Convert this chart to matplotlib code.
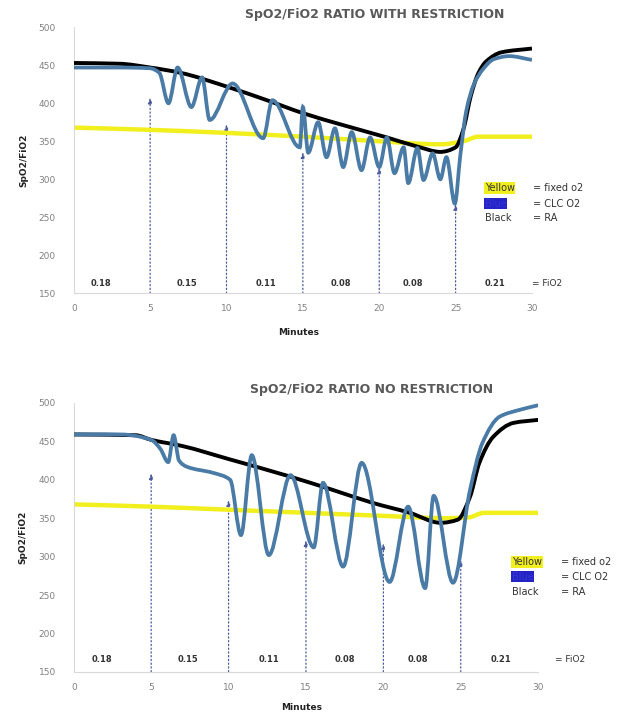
import numpy as np
import matplotlib
matplotlib.use("Agg")
import matplotlib.pyplot as plt
from matplotlib.path import Path
from matplotlib.patches import PathPatch

# ---- data ----
minute_ticks = [0, 5, 10, 15, 20, 25, 30]
ratio_ticks = [150, 200, 250, 300, 350, 400, 450, 500]

fio2_labels = ["0.18", "0.15", "0.11", "0.08", "0.08", "0.21"]
fio2_label_min = [1.8, 7.4, 12.6, 17.5, 22.2, 27.6]
switch_min = [5, 10, 15, 20, 25]

# with restriction
top_ra_min = [0, 3, 5, 7, 10, 12.5, 15, 17.5, 20.5, 22.5, 24, 25, 25.5, 26, 26.5, 27, 28, 30]
top_ra = [453, 452, 447, 440, 422, 405, 387, 372, 355, 343, 336, 342, 365, 410, 440, 455, 467, 472]

top_clc_min = [0, 3, 5, 5.6, 6.2, 6.8, 7.7, 8.4, 8.9, 10.4, 12.4, 13.0, 14.8, 15.0, 15.35,
               16.0, 16.55, 17.1, 17.64, 18.2, 18.84, 19.4, 20.0, 20.5, 21.0, 21.6, 21.9,
               22.5, 22.9, 23.5, 24.0, 24.4, 24.95, 25.3, 25.7, 26.2, 26.8, 27.5, 28.5, 30]
top_clc = [447, 447, 446, 440, 400, 447, 395, 434, 378, 426, 354, 404, 342, 395, 335,
           375, 329, 367, 316, 362, 312, 355, 316, 355, 308, 342, 295,
           341, 299, 334, 300, 329, 268, 330, 390, 425, 445, 458, 462, 457]

top_fixed_min = [0, 5, 10, 15, 20, 24, 25.5, 26.5, 30]
top_fixed = [368, 365, 361, 356, 350, 346, 350, 356, 356]

top_arrow_tip = [408, 373, 336, 316, 268]

# no restriction
bot_ra_min = [0, 4, 5, 7, 10, 14, 16.7, 19.3, 21.7, 23.7, 24.8, 25.6, 26.2, 27.1, 28.4, 30]
bot_ra = [459, 458, 452, 444, 427, 404, 387, 370, 357, 344, 348, 378, 422, 456, 474, 478]

bot_clc_min = [0, 3, 5, 5.6, 6.1, 6.45, 6.8, 7.3, 9.0, 10.1, 10.8, 11.5, 12.6, 14.0, 15.5,
               16.1, 17.4, 18.6, 20.4, 21.6, 22.7, 23.25, 24.5, 25.6, 26.4, 27.5, 28.8, 30]
bot_clc = [459, 459, 452, 440, 423, 458, 425, 417, 409, 400, 328, 432, 302, 406, 312,
           396, 287, 422, 267, 365, 259, 379, 266, 387, 448, 482, 491, 497]

bot_fixed_min = [0, 5, 10, 15, 20, 24, 25.5, 26.5, 30]
bot_fixed = [368, 365, 361, 357, 353, 350, 351, 357, 357]

bot_arrow_tip = [409, 374, 322, 318, 296]

BLUE = "#4a7aa6"
YELLOW = "#f2ef1e"
ARROW = "#4a5a9e"
GREY = "#808080"
TITLE = "#595959"


def smooth_path(xs, ys):
    # Excel-style smoothed line: monotone cubic segments drawn as bezier curves
    x = np.asarray(xs, float)
    y = np.asarray(ys, float)
    h = np.diff(x)
    d = np.diff(y) / h
    m = np.zeros_like(y)
    m[0], m[-1] = d[0], d[-1]
    for i in range(1, len(x) - 1):
        if d[i - 1] * d[i] > 0:
            w1 = 2 * h[i] + h[i - 1]
            w2 = h[i] + 2 * h[i - 1]
            m[i] = (w1 + w2) / (w1 / d[i - 1] + w2 / d[i])
    verts = [(x[0], y[0])]
    codes = [Path.MOVETO]
    for i in range(len(x) - 1):
        verts += [(x[i] + h[i] / 3, y[i] + m[i] * h[i] / 3),
                  (x[i + 1] - h[i] / 3, y[i + 1] - m[i + 1] * h[i] / 3),
                  (x[i + 1], y[i + 1])]
        codes += [Path.CURVE4] * 3
    return Path(verts, codes)


def draw_panel(ax, title, title_x, ra_x, ra, clc_x, clc, fx_x, fx, tips,
               legend_x, legend_eq_x, legend_y, fio2_y, fio2_eq_x, minutes_y):
    ax.add_patch(PathPatch(smooth_path(fx_x, fx), fill=False, ec=YELLOW, lw=3.2, zorder=2))
    ax.add_patch(PathPatch(smooth_path(ra_x, ra), fill=False, ec="black", lw=2.8, zorder=3))
    ax.add_patch(PathPatch(smooth_path(clc_x, clc), fill=False, ec=BLUE, lw=2.7, zorder=4))

    for xm, tip in zip(switch_min, tips):
        ax.annotate("", xy=(xm, tip), xytext=(xm, 150),
                    arrowprops=dict(arrowstyle="-|>,head_length=0.35,head_width=0.12",
                                    color=ARROW, lw=0.9, ls=(0, (1, 2)),
                                    shrinkA=0, shrinkB=0), zorder=1)

    for xm, lab in zip(fio2_label_min, fio2_labels):
        ax.text(xm, fio2_y, lab, fontsize=6, fontweight="bold", color="#333333",
                ha="center", va="center")
    ax.text(fio2_eq_x, fio2_y, "= FiO2", fontsize=6.5, color="#333333",
            ha="left", va="center", clip_on=False)

    names = ["Yellow", "Blue", "Black"]
    meaning = ["= fixed o2", "= CLC O2", "= RA"]
    boxes = [dict(fc=YELLOW, ec="none", pad=0.6), dict(fc="#2424c4", ec="none", pad=0.6), None]
    colors = ["#333333", "#3434d8", "#333333"]
    for nm, mn, bx, col, yy in zip(names, meaning, boxes, colors, legend_y):
        ax.text(legend_x, yy, nm, fontsize=7, color=col, ha="left", va="center",
                bbox=bx, clip_on=False)
        ax.text(legend_eq_x, yy, mn, fontsize=7, color="#333333", ha="left",
                va="center", clip_on=False)

    ax.set_xlim(0, 30)
    ax.set_ylim(150, 500)
    ax.set_xticks(minute_ticks)
    ax.set_yticks(ratio_ticks)
    ax.tick_params(length=0, labelsize=6.5, labelcolor=GREY)
    ax.tick_params(axis="x", pad=8)
    ax.tick_params(axis="y", pad=13)
    for side in ["top", "right"]:
        ax.spines[side].set_visible(False)
    for side in ["left", "bottom"]:
        ax.spines[side].set_color("#d9d9d9")
        ax.spines[side].set_linewidth(0.8)

    ax.set_title(title, fontsize=9, fontweight="bold", color=TITLE, x=title_x, y=1.005)
    ax.set_ylabel("SpO2/FiO2", fontsize=6.5, fontweight="bold", color="#222222")
    ax.yaxis.set_label_coords(-0.10, 0.5)
    ax.set_xlabel("Minutes", fontsize=6.5, fontweight="bold", color="#222222")
    ax.xaxis.set_label_coords(0.49, minutes_y)


fig = plt.figure(figsize=(6.2, 7.17), dpi=100)
ax1 = fig.add_axes([0.119, 0.591, 0.739, 0.371])
ax2 = fig.add_axes([0.119, 0.063, 0.749, 0.375])

draw_panel(ax1, "SpO2/FiO2 RATIO WITH RESTRICTION", 0.657,
           top_ra_min, top_ra, top_clc_min, top_clc, top_fixed_min, top_fixed, top_arrow_tip,
           26.9, 30.1, [288, 268, 249], 163, 30.0, -0.13)
draw_panel(ax2, "SpO2/FiO2 RATIO NO RESTRICTION", 0.642,
           bot_ra_min, bot_ra, bot_clc_min, bot_clc, bot_fixed_min, bot_fixed, bot_arrow_tip,
           28.3, 31.5, [293, 274, 254], 166, 31.1, -0.115)

fig.savefig("out.png", dpi=100)
